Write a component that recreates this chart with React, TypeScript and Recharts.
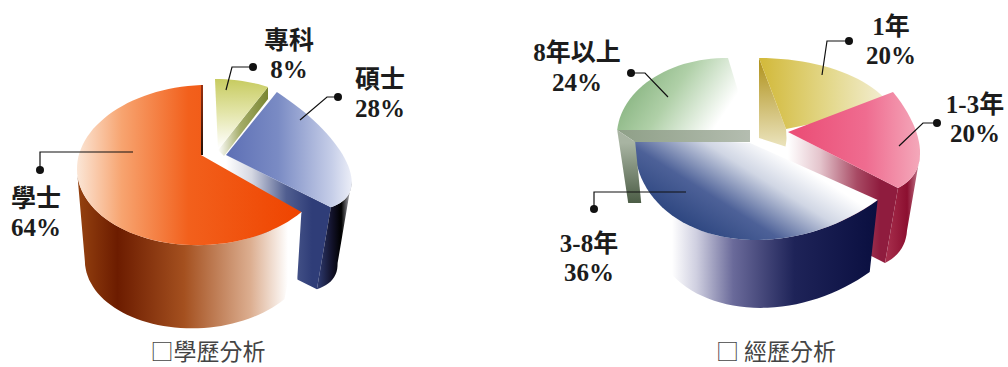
import React from 'react';
import { PieChart, Pie } from 'recharts';

// Values shown by the two charts, listed clockwise from twelve o'clock.
const educationNames = ['專科', '碩士', '學士'];
const educationValues = [8, 28, 64];
const experienceNames = ['1年', '1-3年', '3-8年', '8年以上'];
const experienceValues = [20, 20, 36, 24];
const educationCaption = '□學歷分析';
const experienceCaption = '□ 經歷分析';

const educationData = educationNames.map((name, i) => ({ name, value: educationValues[i] }));
const experienceData = experienceNames.map((name, i) => ({ name, value: experienceValues[i] }));

type Stop = [number, string];
type Paint = { from: [number, number]; to: [number, number]; stops: Stop[] };
type Anchor = 'start' | 'end' | 'apex';
type Face = { points: [Anchor, number, number][]; paint: Paint };
type Wall = { from: number; to: number; dx: number; dy: number; scale?: number; paint: Paint };
type Solid = {
  map: [number, number, number, number, number, number];
  apex: [number, number];
  top: Paint;
  faces?: Face[];
  wall?: Wall;
};

const h = (x1: number, x2: number, stops: Stop[]): Paint => ({ from: [x1, 0], to: [x2, 0], stops });

// Each slice is a unit-circle sector projected to the page by an affine map, then extruded.
const solids: Record<string, Solid> = {
  專科: {
    map: [215, 143, 110, 0, 0, -64],
    apex: [218, 150],
    top: { from: [0, 80], to: [0, 148], stops: [[0, '#c8cc62'], [0.5, '#e4e6ac'], [1, '#ffffff']] },
    faces: [
      {
        points: [['end', 0, 0], ['apex', 0, 0], ['apex', 6, 6], ['end', 0, 12]],
        paint: h(218, 268, [[0, '#ffffff'], [0.45, '#a4ac68'], [1, '#7a8632']]),
      },
    ],
  },
  碩士: {
    map: [229, 127.8, 122, -12.4, 47.6, -67],
    apex: [226, 155],
    top: h(230, 350, [[0, '#5f71b6'], [0.4, '#7a8bc4'], [0.85, '#c6cee8'], [1, '#e8ebf6']]),
    faces: [
      {
        points: [['apex', 0, 0], ['end', 0, 0], ['end', -14, 82], ['apex', -14, 82]],
        paint: h(226, 312, [[0, '#ffffff'], [0.3, '#d4d7e2'], [0.7, '#505e90'], [1, '#2f3d78']]),
      },
    ],
    wall: {
      from: -5,
      to: -39.6,
      dx: -14,
      dy: 82,
      paint: h(318, 349, [[0, '#2e3a70'], [0.45, '#12122a'], [0.75, '#000000'], [1, '#9a9aa0']]),
    },
  },
  學士: {
    map: [203, 165, 126, -2, -5, -80],
    apex: [201, 155],
    top: h(77, 300, [[0, '#fbe6d6'], [0.2, '#f7a470'], [0.5, '#f2601c'], [1, '#ef4400']]),
    faces: [
      {
        points: [['end', 0, 0], ['apex', 0, 0], ['apex', 2, 0], ['end', 2, 0]],
        paint: { from: [0, 85], to: [0, 155], stops: [[0, '#9a3010'], [1, '#201008']] },
      },
      {
        points: [['start', 0, 0], ['start', -4, 65], ['start', -4, 100], ['start', -30, 100], ['start', -30, 0]],
        paint: h(0, 1, [[0, '#ffffff'], [1, '#ffffff']]),
      },
    ],
    wall: {
      from: -39.6,
      to: -180,
      dx: -6,
      dy: 92,
      scale: 0.89,
      paint: h(80, 288, [[0, '#93400f'], [0.18, '#6c1c00'], [0.5, '#a4501f'], [0.82, '#dcae90'], [1, '#ffffff']]),
    },
  },
  '1年': {
    map: [759, 130, 140, 0, 0, -72],
    apex: [786, 129],
    top: h(760, 890, [[0, '#d2b93a'], [0.55, '#e4d98e'], [1, '#f4efd8']]),
    faces: [
      {
        points: [['start', 0, 0], ['apex', 0, 0], ['apex', 1, 18], ['start', 0, 80]],
        paint: { from: [0, 60], to: [0, 145], stops: [[0, '#b0921c'], [1, '#eae2ba']] },
      },
    ],
  },
  '1-3年': {
    map: [791.6, 97.6, 120.8, -43.7, 24.6, -93.9],
    apex: [788, 132],
    top: h(800, 920, [[0, '#eb5078'], [0.55, '#ef6c90'], [1, '#f4a8ba']]),
    faces: [
      {
        points: [['apex', 0, 0], ['end', 0, 0], ['end', -13, 75], ['apex', -13, 75]],
        paint: h(788, 880, [[0, '#ffffff'], [0.35, '#e4c4cc'], [0.75, '#a84a64'], [1, '#8f1c3e']]),
      },
    ],
    wall: {
      from: -22,
      to: -54,
      dx: -13,
      dy: 75,
      paint: h(885, 922, [[0, '#a8304e'], [0.6, '#8c0f30'], [1, '#d09aa8']]),
    },
  },
  '3-8年': {
    map: [787, 119.3, 152.7, -1.2, -25.2, -118],
    apex: [750, 143],
    top: { from: [700, 235], to: [760, 140], stops: [[0, '#2d4680'], [0.35, '#4d6198'], [0.72, '#d0d6e4'], [1, '#ffffff']] },
    wall: {
      from: -54,
      to: -150,
      dx: 1,
      dy: 80,
      scale: 0.9,
      paint: h(672, 876, [[0, '#ffffff'], [0.12, '#cfcfe0'], [0.3, '#6a6a9a'], [0.6, '#1e2358'], [1, '#0a0f40']]),
    },
  },
  '8年以上': {
    map: [726.6, 136.4, 109.7, 1.4, 1.36, -78.4],
    apex: [750, 130],
    top: { from: [625, 100], to: [700, 150], stops: [[0, '#8db886'], [0.4, '#b0d0a8'], [1, '#ffffff']] },
    faces: [
      {
        points: [['start', 0, 0], ['apex', 0, 0], ['apex', 0, 12], ['start', 18, 12]],
        paint: h(620, 750, [[0, '#8fa088'], [1, '#b4bdb0']]),
      },
      {
        points: [['start', 0, 0], ['start', 18, 12], ['start', 24, 73], ['start', 11, 73]],
        paint: { from: [0, 143], to: [0, 213], stops: [[0, '#a8b4a2'], [1, '#3c4e36']] },
      },
    ],
  },
};

const rimPoint = (m: Solid['map'], deg: number): [number, number] => {
  const r = (deg * Math.PI) / 180;
  const u = Math.cos(r);
  const v = Math.sin(r);
  return [m[0] + m[2] * u + m[3] * v, m[1] + m[4] * u + m[5] * v];
};

const arcPoints = (m: Solid['map'], from: number, to: number): [number, number][] => {
  const steps = Math.max(4, Math.ceil(Math.abs(to - from) / 3));
  const out: [number, number][] = [];
  for (let i = 0; i <= steps; i += 1) out.push(rimPoint(m, from + ((to - from) * i) / steps));
  return out;
};

const toPath = (pts: [number, number][]) =>
  `M${pts.map(([x, y]) => `${x.toFixed(1)},${y.toFixed(1)}`).join('L')}Z`;

const gradient = (id: string, p: Paint) => (
  <linearGradient key={id} id={id} gradientUnits="userSpaceOnUse" x1={p.from[0]} y1={p.from[1]} x2={p.to[0]} y2={p.to[1]}>
    {p.stops.map(([o, c]) => (
      <stop key={o} offset={o} stopColor={c} />
    ))}
  </linearGradient>
);

// Custom sector: the angles come from the Pie, everything else from the solid's projection.
const ExtrudedSlice = (props: any) => {
  const { name, startAngle, endAngle } = props;
  const solid = solids[name];
  if (!solid) return null;
  const { map, apex, top, faces = [], wall } = solid;
  const slug = `s${Object.keys(solids).indexOf(name)}`;
  const anchors: Record<Anchor, [number, number]> = {
    start: rimPoint(map, startAngle),
    end: rimPoint(map, endAngle),
    apex,
  };
  let wallPath: string | null = null;
  if (wall) {
    const upper = arcPoints(map, wall.from, wall.to);
    const s = wall.scale ?? 1;
    const lowerMap: Solid['map'] = [map[0] + wall.dx, map[1] + wall.dy, map[2] * s, map[3] * s, map[4] * s, map[5] * s];
    const lower = arcPoints(lowerMap, wall.to, wall.from);
    wallPath = toPath([...upper, ...lower]);
  }
  return (
    <g>
      <defs>
        {gradient(`${slug}-top`, top)}
        {faces.map((f, i) => gradient(`${slug}-f${i}`, f.paint))}
        {wall ? gradient(`${slug}-wall`, wall.paint) : null}
      </defs>
      {faces.map((f, i) => (
        <path
          key={i}
          d={toPath(f.points.map(([a, dx, dy]) => [anchors[a][0] + dx, anchors[a][1] + dy] as [number, number]))}
          fill={`url(#${slug}-f${i})`}
        />
      ))}
      {wallPath ? <path d={wallPath} fill={`url(#${slug}-wall)`} /> : null}
      <path d={toPath([apex, ...arcPoints(map, startAngle, endAngle)])} fill={`url(#${slug}-top)`} />
    </g>
  );
};

// Callout placement: leader polyline (dot first) and the centre and baselines of the two text rows.
const callouts: Record<string, { line: [number, number][]; x: number; y1: number; y2: number }> = {
  專科: { line: [[253, 67], [232, 67], [226, 90]], x: 289, y1: 49, y2: 78 },
  碩士: { line: [[338, 97], [327, 97], [300, 120]], x: 380, y1: 88, y2: 117 },
  學士: { line: [[40, 170], [40, 152], [133, 152]], x: 36, y1: 207, y2: 236 },
  '1年': { line: [[849, 41], [827, 41], [822, 75]], x: 891, y1: 35, y2: 64 },
  '1-3年': { line: [[937, 123], [923, 123], [899, 146]], x: 975, y1: 113, y2: 142 },
  '3-8年': { line: [[594, 209], [594, 192], [686, 192]], x: 589, y1: 252, y2: 281 },
  '8年以上': { line: [[631, 73], [645, 73], [668, 97]], x: 577, y1: 61, y2: 91 },
};

const labelFont = '"Liberation Serif", "Noto Sans CJK TC", serif';

const Callout = (props: any) => {
  const { name, value } = props;
  const c = callouts[name];
  if (!c) return null;
  const textStyle = { fontFamily: labelFont, fontSize: 25, fontWeight: 700, fill: '#1c1c1c' };
  return (
    <g>
      <polyline points={c.line.map((p) => p.join(',')).join(' ')} fill="none" stroke="#111" strokeWidth={1.2} />
      <circle cx={c.line[0][0]} cy={c.line[0][1]} r={4} fill="#111" />
      <text x={c.x} y={c.y1} textAnchor="middle" style={textStyle}>
        {name}
      </text>
      <text x={c.x} y={c.y2} textAnchor="middle" style={textStyle}>
        {`${value}%`}
      </text>
    </g>
  );
};

const captionStyle = { fontFamily: '"Noto Sans CJK TC", sans-serif', fontSize: 23, fill: '#444' };

export default function App() {
  return (
    <div style={{ position: 'absolute', left: 0, top: 0, width: 1008, height: 367, overflow: 'hidden', background: '#fff' }}>
      <PieChart width={1008} height={367} margin={{ top: 0, right: 0, bottom: 0, left: 0 }}>
        <Pie
          data={educationData}
          dataKey="value"
          nameKey="name"
          cx={203}
          cy={165}
          outerRadius={120}
          startAngle={90}
          endAngle={-270}
          stroke="none"
          shape={ExtrudedSlice}
          label={Callout}
          labelLine={false}
          isAnimationActive={false}
        />
        <Pie
          data={experienceData}
          dataKey="value"
          nameKey="name"
          cx={755}
          cy={130}
          outerRadius={120}
          startAngle={90}
          endAngle={-270}
          stroke="none"
          shape={ExtrudedSlice}
          label={Callout}
          labelLine={false}
          isAnimationActive={false}
        />
        <text x={208} y={360} textAnchor="middle" style={captionStyle}>
          {educationCaption}
        </text>
        <text x={776} y={360} textAnchor="middle" style={captionStyle}>
          {experienceCaption}
        </text>
      </PieChart>
    </div>
  );
}
